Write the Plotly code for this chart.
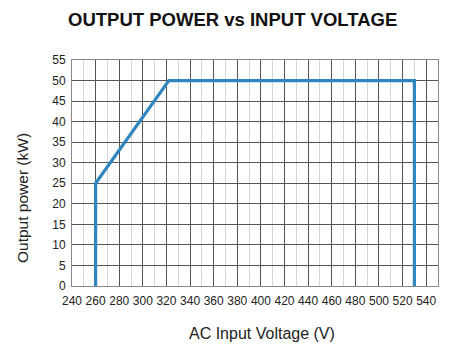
import plotly.graph_objects as go

voltage = [260, 260, 322, 530, 530]
power = [0, 25, 50, 50, 0]
x_ticks = list(range(240, 541, 20))
x_minor = list(range(250, 551, 20))
y_ticks = list(range(0, 56, 5))

fig = go.Figure()
fig.add_trace(go.Scatter(x=voltage, y=power, mode="lines",
                         line=dict(color="#2f86bf", width=3.2), showlegend=False))

font = "Liberation Sans, Arial, sans-serif"
fig.update_layout(
    width=464, height=359,
    margin=dict(l=72, r=26, t=60, b=73),
    paper_bgcolor="white", plot_bgcolor="white",
    font=dict(family=font, color="#222", size=12),
    annotations=[
        dict(text="<b>OUTPUT POWER vs INPUT VOLTAGE</b>", xref="paper", yref="paper",
             x=(232 - 72) / 366, y=1 + (60 - 20) / 226, showarrow=False,
             font=dict(size=18.5, color="#111", family=font), xanchor="center", yanchor="middle"),
        dict(text="AC Input Voltage (V)", xref="paper", yref="paper",
             x=(262 - 72) / 366, y=-(333 - 286) / 226, showarrow=False,
             font=dict(size=16, color="#222", family=font), xanchor="center", yanchor="middle"),
        dict(text="Output power (kW)", xref="paper", yref="paper",
             x=-(72 - 22) / 366, y=(286 - 198) / 226, showarrow=False, textangle=-90,
             font=dict(size=15.5, color="#222", family=font), xanchor="center", yanchor="middle"),
    ],
)
fig.update_xaxes(range=[240, 550], tickmode="array", tickvals=x_ticks,
                 ticktext=[str(v) for v in x_ticks],
                 showgrid=True, gridcolor="#555", gridwidth=1,
                 minor=dict(tickmode="array", tickvals=x_minor, showgrid=True,
                            gridcolor="#d6d6d6", gridwidth=1, ticks=""),
                 showline=True, linecolor="#888", mirror=True, zeroline=False,
                 ticks="", ticklabelstandoff=4)
fig.update_yaxes(range=[0, 55], tickmode="array", tickvals=y_ticks,
                 showgrid=True, gridcolor="#555", gridwidth=1,
                 showline=True, linecolor="#888", mirror=True, zeroline=False,
                 ticks="", ticklabelstandoff=3)

fig.write_html("out.html")
